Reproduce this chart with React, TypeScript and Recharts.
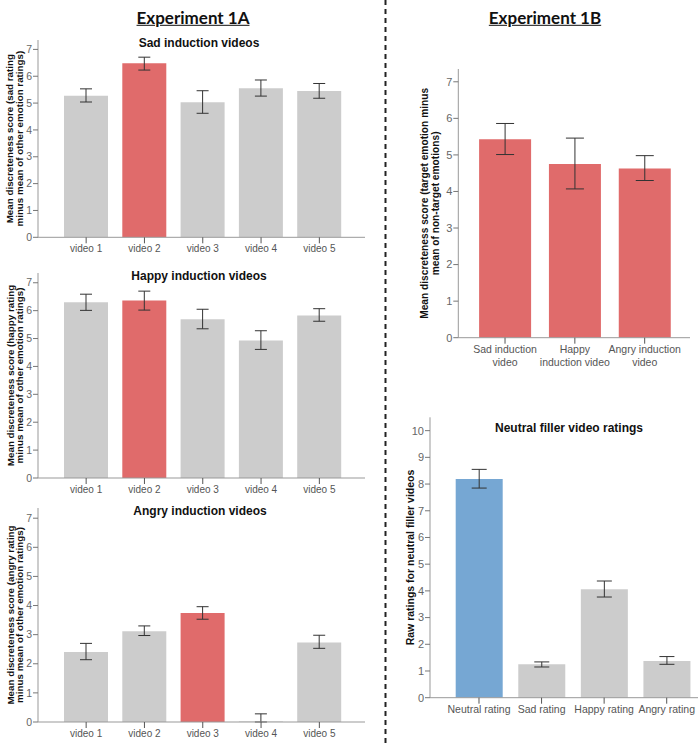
import React from 'react';
import { BarChart, Bar, XAxis, YAxis, ErrorBar, Cell } from 'recharts';

const FONT = '"Liberation Sans", Arial, Helvetica, sans-serif';
const RED = '#E06B6B';
const GRAY = '#CCCCCC';
const BLUE = '#76A7D3';

const videoCategories = ['video 1', 'video 2', 'video 3', 'video 4', 'video 5'];

const sadMeans = [5.27, 6.48, 5.03, 5.55, 5.45];
const sadErrLow = [0.23, 0.25, 0.41, 0.29, 0.27];
const sadErrHigh = [0.26, 0.23, 0.43, 0.31, 0.28];

const happyMeans = [6.3, 6.36, 5.69, 4.93, 5.83];
const happyErrLow = [0.29, 0.34, 0.34, 0.32, 0.21];
const happyErrHigh = [0.29, 0.34, 0.36, 0.35, 0.24];

const angryMeans = [2.4, 3.12, 3.74, 0.02, 2.73];
const angryErrLow = [0.26, 0.15, 0.21, 0.02, 0.2];
const angryErrHigh = [0.3, 0.18, 0.22, 0.26, 0.25];

const exp1bCategories = ['Sad induction video', 'Happy induction video', 'Angry induction video'];
const exp1bTickLines = [
  ['Sad induction', 'video'],
  ['Happy', 'induction video'],
  ['Angry induction', 'video'],
];
const exp1bMeans = [5.43, 4.75, 4.63];
const exp1bErrLow = [0.42, 0.68, 0.33];
const exp1bErrHigh = [0.43, 0.71, 0.35];

const neutralCategories = ['Neutral rating', 'Sad rating', 'Happy rating', 'Angry rating'];
const neutralMeans = [8.19, 1.25, 4.06, 1.37];
const neutralErrLow = [0.34, 0.1, 0.29, 0.12];
const neutralErrHigh = [0.36, 0.09, 0.31, 0.17];

const discretenessTicks = [0, 1, 2, 3, 4, 5, 6, 7];
const rawTicks = [0, 1, 2, 3, 4, 5, 6, 7, 8, 9, 10];

type Row = { name: string; value: number; err: [number, number] };

const buildRows = (cats: string[], means: number[], lo: number[], hi: number[]): Row[] =>
  cats.map((c, i) => ({ name: c, value: means[i], err: [lo[i], hi[i]] }));

const RotLabel = (props: any) => {
  const { lines, xs, cy, size } = props;
  return (
    <g>
      {lines.map((l: string, i: number) => (
        <text
          key={i}
          x={xs[i]}
          y={cy}
          transform={`rotate(-90 ${xs[i]} ${cy})`}
          textAnchor="middle"
          dominantBaseline="central"
          fontFamily={FONT}
          fontWeight="bold"
          fontSize={size}
          fill="#111"
        >
          {l}
        </text>
      ))}
    </g>
  );
};

const MultiTick = (props: any) => {
  const { x, y, payload, fontSize } = props;
  const idx = exp1bCategories.indexOf(payload.value);
  const lines = idx >= 0 ? exp1bTickLines[idx] : [String(payload.value)];
  return (
    <text x={x} y={y} textAnchor="middle" fontFamily={FONT} fontSize={fontSize} fill="#555">
      {lines.map((l, i) => (
        <tspan key={i} x={x} dy={i === 0 ? '0.71em' : '1.25em'}>
          {l}
        </tspan>
      ))}
    </text>
  );
};

type PanelProps = {
  left: number;
  top: number;
  width: number;
  height: number;
  plotLeft: number;
  plotRight: number;
  plotTop: number;
  plotBottom: number;
  rows: Row[];
  colors: string[];
  domainMax: number;
  ticks: number[];
  padLeft: number;
  padRight: number;
  barSize: number;
  capHalf: number;
  yLabelLines: string[];
  yLabelXs: number[];
  yLabelSize: number;
  tickFont: number;
  xAxisHeight: number;
  multiTick?: boolean;
};

const Y_W = 30;

const Panel = (p: PanelProps) => {
  const margin = {
    top: p.plotTop - p.top,
    bottom: p.top + p.height - p.plotBottom - p.xAxisHeight,
    left: p.plotLeft - p.left - Y_W,
    right: p.left + p.width - p.plotRight,
  };
  const cy = (p.plotTop + p.plotBottom) / 2 - p.top;
  return (
    <div style={{ position: 'absolute', left: p.left, top: p.top, width: p.width, height: p.height }}>
      <BarChart width={p.width} height={p.height} data={p.rows} margin={margin}>
        <XAxis
          dataKey="name"
          height={p.xAxisHeight}
          interval={0}
          padding={{ left: p.padLeft, right: p.padRight }}
          axisLine={{ stroke: '#999' }}
          tickLine={{ stroke: '#555' }}
          tickSize={6}
          tickMargin={2}
          tick={
            p.multiTick ? (
              <MultiTick fontSize={p.tickFont} />
            ) : (
              { fontFamily: FONT, fontSize: p.tickFont, fill: '#555' }
            )
          }
        />
        <YAxis
          width={Y_W}
          type="number"
          domain={[0, p.domainMax]}
          allowDataOverflow
          ticks={p.ticks}
          interval={0}
          axisLine={{ stroke: '#999' }}
          tickLine={{ stroke: '#777' }}
          tickSize={5}
          tickMargin={1}
          tick={{ fontFamily: FONT, fontSize: p.tickFont + 0.5, fill: '#666' }}
          label={
            <RotLabel
              lines={p.yLabelLines}
              xs={p.yLabelXs.map((x) => x - p.left)}
              cy={cy}
              size={p.yLabelSize}
            />
          }
        />
        <Bar dataKey="value" barSize={p.barSize} isAnimationActive={false}>
          {p.rows.map((r, i) => (
            <Cell key={r.name} fill={p.colors[i]} />
          ))}
          <ErrorBar dataKey="err" direction="y" width={p.capHalf} stroke="#333" strokeWidth={1} />
        </Bar>
      </BarChart>
    </div>
  );
};

const highlight = (n: number, idx: number, hi: string, base: string) =>
  Array.from({ length: n }, (_, i) => (i === idx ? hi : base));

const Title = ({ x, y, text, size }: { x: number; y: number; text: string; size: number }) => (
  <div
    style={{
      position: 'absolute',
      left: x,
      top: y,
      transform: 'translate(-50%, -50%)',
      fontFamily: FONT,
      fontWeight: 'bold',
      fontSize: size,
      color: '#111',
      whiteSpace: 'nowrap',
      lineHeight: 1,
    }}
  >
    {text}
  </div>
);

const Header = ({ x, y, text }: { x: number; y: number; text: string }) => (
  <div
    style={{
      position: 'absolute',
      left: x,
      top: y,
      transform: 'translate(-50%, -50%)',
      fontFamily: 'Lato, "Open Sans", sans-serif',
      fontWeight: 'bold',
      fontSize: 17,
      color: '#111',
      textDecoration: 'underline',
      whiteSpace: 'nowrap',
      lineHeight: 1.2,
    }}
  >
    {text}
  </div>
);

export default function App() {
  const sadRows = buildRows(videoCategories, sadMeans, sadErrLow, sadErrHigh);
  const happyRows = buildRows(videoCategories, happyMeans, happyErrLow, happyErrHigh);
  const angryRows = buildRows(videoCategories, angryMeans, angryErrLow, angryErrHigh);
  const exp1bRows = buildRows(exp1bCategories, exp1bMeans, exp1bErrLow, exp1bErrHigh);
  const neutralRows = buildRows(neutralCategories, neutralMeans, neutralErrLow, neutralErrHigh);

  const leftCommon = {
    left: 0,
    width: 370,
    plotLeft: 38,
    plotRight: 365,
    domainMax: 7.35,
    ticks: discretenessTicks,
    padLeft: 19,
    padRight: 16.5,
    barSize: 44,
    capHalf: 6,
    yLabelXs: [10, 19.5],
    yLabelSize: 9.8,
    tickFont: 10,
    xAxisHeight: 30,
  };

  return (
    <div style={{ position: 'absolute', left: 0, top: 0, width: 700, height: 743, background: '#fff', overflow: 'hidden' }}>
      <Panel
        {...leftCommon}
        top={0}
        height={268}
        plotTop={40}
        plotBottom={237.3}
        rows={sadRows}
        colors={highlight(5, 1, RED, GRAY)}
        yLabelLines={['Mean discreteness score (sad rating', 'minus mean of other emotion ratings)']}
      />
      <Panel
        {...leftCommon}
        top={258}
        height={250}
        plotTop={273}
        plotBottom={478}
        rows={happyRows}
        colors={highlight(5, 1, RED, GRAY)}
        yLabelLines={['Mean discreteness score (happy rating', 'minus mean of other emotion ratings)']}
      />
      <Panel
        {...leftCommon}
        top={495}
        height={248}
        plotTop={508}
        plotBottom={722}
        rows={angryRows}
        colors={highlight(5, 2, RED, GRAY)}
        yLabelLines={['Mean discreteness score (angry rating', 'minus mean of other emotion ratings)']}
      />
      <Panel
        left={395}
        top={50}
        width={305}
        height={330}
        plotLeft={458.3}
        plotRight={690}
        plotTop={69}
        plotBottom={337.7}
        rows={exp1bRows}
        colors={[RED, RED, RED]}
        domainMax={7.35}
        ticks={discretenessTicks}
        padLeft={11.8}
        padRight={10.4}
        barSize={52}
        capHalf={9}
        yLabelLines={['Mean discreteness score (target emotion minus', 'mean of non-target emotions)']}
        yLabelXs={[425, 435.5]}
        yLabelSize={10.2}
        tickFont={10.5}
        xAxisHeight={40}
        multiTick
      />
      <Panel
        left={395}
        top={400}
        width={305}
        height={340}
        plotLeft={430}
        plotRight={698}
        plotTop={417.3}
        plotBottom={697.7}
        rows={neutralRows}
        colors={[BLUE, GRAY, GRAY, GRAY]}
        domainMax={10.5}
        ticks={rawTicks}
        padLeft={17.7}
        padRight={0}
        barSize={47}
        capHalf={7.5}
        yLabelLines={['Raw ratings for neutral filler videos']}
        yLabelXs={[410]}
        yLabelSize={10.5}
        tickFont={10.5}
        xAxisHeight={30}
      />

      <Title x={199} y={43} text="Sad induction videos" size={12} />
      <Title x={199} y={276} text="Happy induction videos" size={12} />
      <Title x={200} y={511} text="Angry induction videos" size={12} />
      <Title x={569} y={428} text="Neutral filler video ratings" size={12} />

      <Header x={193} y={18} text="Experiment 1A" />
      <Header x={545} y={18} text="Experiment 1B" />

      <svg
        width={700}
        height={743}
        style={{ position: 'absolute', left: 0, top: 0, pointerEvents: 'none' }}
      >
        <line x1={385.5} y1={0} x2={385.5} y2={743} stroke="#222" strokeWidth={2} strokeDasharray="5 4" />
      </svg>
    </div>
  );
}
